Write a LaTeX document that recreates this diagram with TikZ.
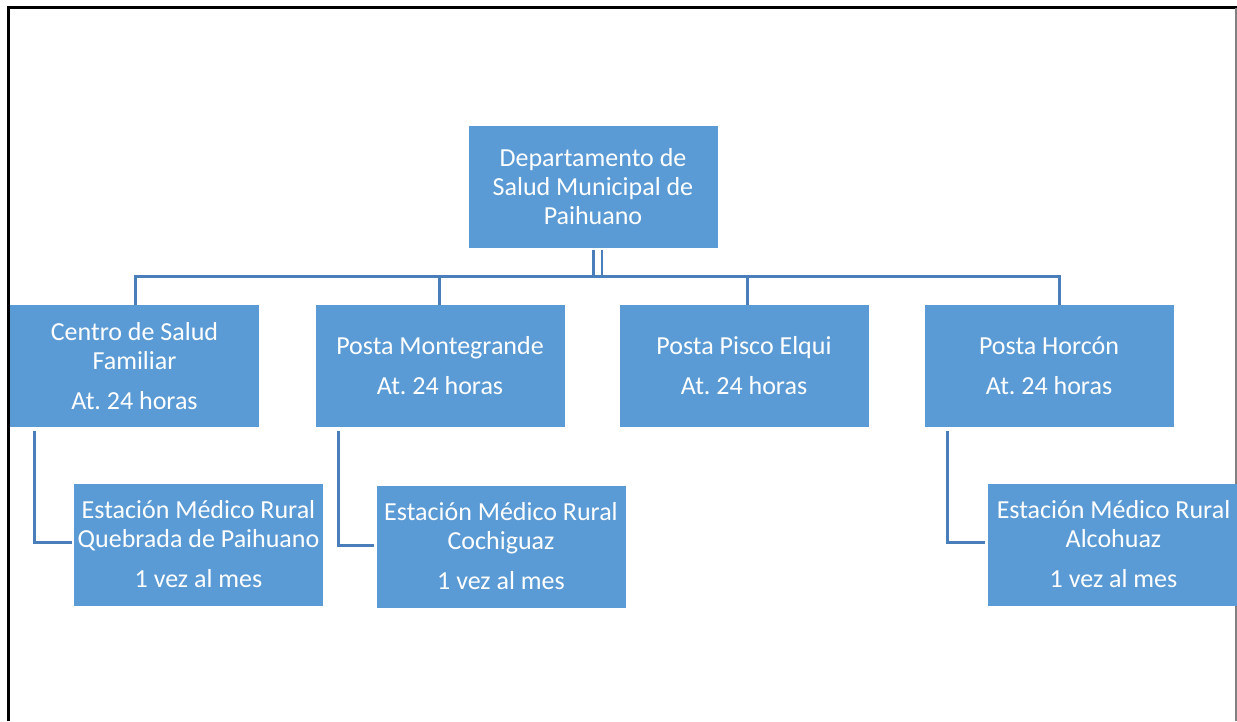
\documentclass[tikz,border=0pt]{standalone}
\usepackage{fontspec}
\setmainfont{Carlito}
\frenchspacing
\definecolor{boxblue}{HTML}{5B9BD5}
\definecolor{linkblue}{HTML}{4A7EBB}
\tikzset{
  orgbox/.style={rectangle, fill=boxblue, draw=none, minimum width=249pt, minimum height=122pt,
    inner sep=0pt, align=center, text=white, font=\fontsize{26}{29}\selectfont\frenchspacing},
  link/.style={draw=linkblue, line width=3pt},
}
\begin{document}
\begin{tikzpicture}[x=1pt, y=-1pt]
\useasboundingbox (0,0) rectangle (1237,721);
% frame
\draw[line width=3pt] (8.8,721) -- (8.8,7.5) -- (1237,7.5);
\draw[gray, line width=1.5pt] (1236.2,7.5) -- (1236.2,721);
% nodes
\node[orgbox] (top) at (593,187) {Departamento de\\Salud Municipal de\\Paihuano};
\node[orgbox] (c1) at (134.5,366) {Centro de Salud\\Familiar\\[11pt]At. 24 horas};
\node[orgbox] (c2) at (440,366) {Posta Montegrande\\[11pt]At. 24 horas};
\node[orgbox] (c3) at (744,366) {Posta Pisco Elqui\\[11pt]At. 24 horas};
\node[orgbox] (c4) at (1049,366) {Posta Horcón\\[11pt]At. 24 horas};
\node[orgbox] (s1) at (198.5,544.5) {Estación Médico Rural\\Quebrada de Paihuano\\[11pt]1 vez al mes};
\node[orgbox] (s2) at (501,546.5) {Estación Médico Rural\\Cochiguaz\\[11pt]1 vez al mes};
\node[orgbox, minimum width=251pt] (s3) at (1113.5,544.5) {Estación Médico Rural\\Alcohuaz\\[11pt]1 vez al mes};
% bus coordinates
\coordinate (b1) at (135,276.5);
\coordinate (b2) at (439.3,276.5);
\coordinate (b3) at (747.7,276.5);
\coordinate (b4) at (1059,276.5);
% connectors
\draw[link] ([yshift=-2pt]top.south) -- (top.south |- b1);
\draw[draw=linkblue, line width=2pt] ([xshift=9pt,yshift=-2pt]top.south) -- ([xshift=9pt]top.south |- b1);
\draw[link] (b1 |- c1.north) -- (b1) -- (b4) -- (b4 |- c4.north);
\draw[link] (b2) -- (b2 |- c2.north);
\draw[link] (b3) -- (b3 |- c3.north);
\draw[link] ([xshift=25pt,yshift=-4pt]c1.south west) |- ([xshift=-2pt,yshift=2.5pt]s1.west);
\draw[link] ([xshift=23pt,yshift=-4pt]c2.south west) |- ([xshift=-2pt,yshift=1.5pt]s2.west);
\draw[link] ([xshift=23pt,yshift=-4pt]c4.south west) |- ([xshift=-3pt,yshift=2.5pt]s3.west);
\end{tikzpicture}
\end{document}
